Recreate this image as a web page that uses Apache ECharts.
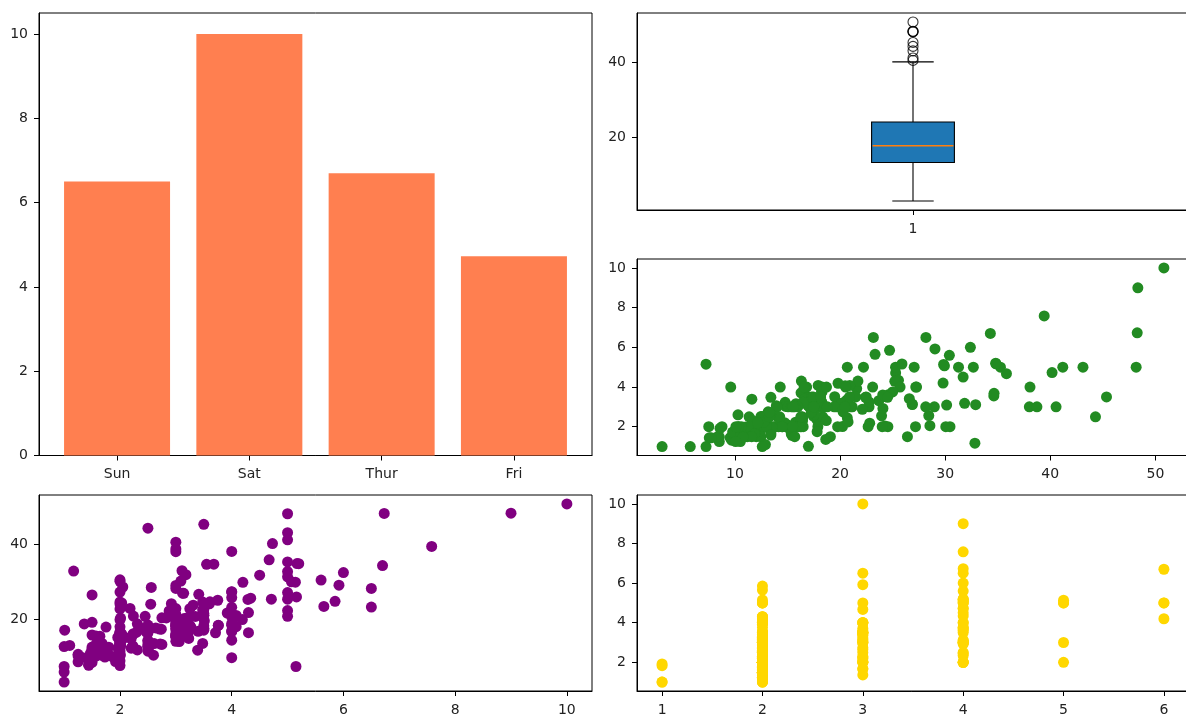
<!DOCTYPE html>
<html>
<head>
<meta charset="utf-8">
<script src="https://cdn.jsdelivr.net/npm/echarts@6/dist/echarts.min.js"></script>
<style>
html,body{margin:0;padding:0;background:#fff;}
#chart{width:1186px;height:718px;}
</style>
</head>
<body>
<div id="chart"></div>
<script>
// ---- data ----
const days = ['Sun', 'Sat', 'Thur', 'Fri'];
const maxTip = [6.5, 10, 6.7, 4.73];

const totalBill = [
16.99,10.34,21.01,23.68,24.59,25.29,8.77,26.88,15.04,14.78,
10.27,35.26,15.42,18.43,14.83,21.58,10.33,16.29,16.97,20.65,
17.92,20.29,15.77,39.42,19.82,17.81,13.37,12.69,21.7,19.65,
9.55,18.35,15.06,20.69,17.78,24.06,16.31,16.93,18.69,31.27,
16.04,17.46,13.94,9.68,30.4,18.29,22.23,32.4,28.55,18.04,
12.54,10.29,34.81,9.94,25.56,19.49,38.01,26.41,11.24,48.27,
20.29,13.81,11.02,18.29,17.59,20.08,16.45,3.07,20.23,15.01,
12.02,17.07,26.86,25.28,14.73,10.51,17.92,27.2,22.76,17.29,
19.44,16.66,10.07,32.68,15.98,34.83,13.03,18.28,24.71,21.16,
28.97,22.49,5.75,16.32,22.75,40.17,27.28,12.03,21.01,12.46,
11.35,15.38,44.3,22.42,20.92,15.36,20.49,25.21,18.24,14.31,
14.0,7.25,38.07,23.95,25.71,17.31,29.93,10.65,12.43,24.08,
11.69,13.42,14.26,15.95,12.48,29.8,8.52,14.52,11.38,22.82,
19.08,20.27,11.17,12.26,18.26,8.51,10.33,14.15,16.0,13.16,
17.47,34.3,41.19,27.05,16.43,8.35,18.64,11.87,9.78,7.51,
14.07,13.13,17.26,24.55,19.77,29.85,48.17,25.0,13.39,16.49,
21.5,12.66,16.21,13.81,17.51,24.52,20.76,31.71,10.59,10.63,
50.81,15.81,7.25,31.85,16.82,32.9,17.89,14.48,9.6,34.63,
34.65,23.33,45.35,23.17,40.55,20.69,20.9,30.46,18.15,23.1,
15.69,19.81,28.44,15.48,16.58,7.56,10.34,43.11,13.0,13.51,
18.71,12.74,13.0,16.4,20.53,16.47,26.59,38.73,24.27,12.76,
30.06,25.89,48.33,13.27,28.17,12.9,28.15,11.59,7.74,30.14,
12.16,13.42,8.58,15.98,13.42,16.27,10.09,20.45,13.28,22.12,
24.01,15.69,11.61,10.77,15.53,10.07,12.6,32.83,35.83,29.03,
27.18,22.67,17.82,18.78
];

const tip = [
1.01,1.66,3.5,3.31,3.61,4.71,2.0,3.12,1.96,3.23,
1.71,5.0,1.57,3.0,3.02,3.92,1.67,3.71,3.5,3.35,
4.08,2.75,2.23,7.58,3.18,2.34,2.0,2.0,4.3,3.0,
1.45,2.5,3.0,2.45,3.27,3.6,2.0,3.07,2.31,5.0,
2.24,2.54,3.06,1.32,5.6,3.0,5.0,6.0,2.05,3.0,
2.5,2.6,5.2,1.56,4.34,3.51,3.0,1.5,1.76,6.73,
3.21,2.0,1.98,3.76,2.64,3.15,2.47,1.0,2.01,2.09,
1.97,3.0,3.14,5.0,2.2,1.25,3.08,4.0,3.0,2.71,
3.0,3.4,1.83,5.0,2.03,5.17,2.0,4.0,5.85,3.0,
3.0,3.5,1.0,4.3,3.25,4.73,4.0,1.5,3.0,1.5,
2.5,3.0,2.5,3.48,4.08,1.64,4.06,4.29,3.76,4.0,
3.0,1.0,4.0,2.55,4.0,3.5,5.07,1.5,1.8,2.92,
2.31,1.68,2.5,2.0,2.52,4.2,1.48,2.0,2.0,2.18,
1.5,2.83,1.5,2.0,3.25,1.25,2.0,2.0,2.0,2.75,
3.5,6.7,5.0,5.0,2.3,1.5,1.36,1.63,1.73,2.0,
2.5,2.0,2.74,2.0,2.0,5.14,5.0,3.75,2.61,2.0,
3.5,2.5,2.0,2.0,3.0,3.48,2.24,4.5,1.61,2.0,
10.0,3.16,5.15,3.18,4.0,3.11,2.0,2.0,4.0,3.55,
3.68,5.65,3.5,6.5,3.0,5.0,3.5,2.0,3.5,4.0,
1.5,4.19,2.56,2.02,4.0,1.44,2.0,5.0,2.0,2.0,
4.0,2.01,2.0,2.5,4.0,3.23,3.41,3.0,2.03,2.23,
2.0,5.16,9.0,2.5,6.5,1.1,3.0,1.5,1.44,3.09,
2.2,3.48,1.92,3.0,1.58,2.5,2.0,3.0,2.72,2.88,
2.0,3.0,3.39,1.47,3.0,1.25,1.0,1.17,4.67,5.92,
2.0,2.0,1.75,3.0
];

const partySize = [
2,3,3,2,4,4,2,4,2,2,
2,4,2,4,2,2,3,3,3,3,
2,2,2,4,2,4,2,2,2,2,
2,4,2,4,2,3,3,3,3,3,
3,2,2,2,4,2,2,4,3,2,
2,2,4,2,4,2,4,2,2,4,
2,2,2,4,3,3,2,1,2,2,
2,3,2,2,2,2,2,4,2,2,
2,2,1,2,2,4,2,2,2,2,
2,2,2,2,2,4,2,2,2,2,
2,2,3,2,2,2,2,2,2,2,
2,1,3,2,3,2,4,2,2,4,
2,2,2,2,2,6,2,2,2,3,
2,2,2,2,2,2,2,2,2,2,
2,6,5,6,2,2,3,2,2,2,
2,2,3,4,4,5,6,4,2,4,
4,2,3,2,2,3,2,4,2,2,
3,2,2,2,2,2,2,2,2,2,
4,2,3,4,2,5,3,5,3,3,
2,2,2,2,2,2,2,4,2,2,
3,2,2,2,4,3,3,4,2,2,
3,4,4,2,3,2,5,2,2,4,
2,2,1,3,2,2,2,4,2,2,
4,3,2,2,2,2,2,2,3,3,
2,2,2,2
];

// boxplot of total_bill: [lower whisker, Q1, median, Q3, upper whisker]
const billBox = [3.07, 13.35, 17.8, 24.13, 40.17];
const billOutliers = [40.55, 41.19, 43.11, 44.3, 45.35, 48.17, 48.27, 48.33, 50.81];

// tick labels
const barYTicks = [0, 2, 4, 6, 8, 10];
const barXTicks = [0, 1, 2, 3];
const billTicks = [20, 40];
const tipTicks = [2, 4, 6, 8, 10];
const billXTicks = [10, 20, 30, 40, 50];
const tipXTicks = [2, 4, 6, 8, 10];
const sizeTicks = [1, 2, 3, 4, 5, 6];
const boxXTicks = [1];

// ---- chart ----
const FONT = 'DejaVu Sans';
const LABEL = { color: '#222', fontFamily: FONT, fontSize: 14 };
const X_MARGIN = 12, Y_MARGIN = 11;

function valAxis(gridIndex, min, max, ticks, dim, extra) {
  const a = {
    type: 'value', gridIndex, min, max,
    axisLine: { show: true, onZero: false, lineStyle: { color: '#000', width: 1 } },
    axisTick: { show: true, length: 5, lineStyle: { color: '#000', width: 1 }, customValues: ticks },
    axisLabel: Object.assign({ margin: dim === 'x' ? X_MARGIN : Y_MARGIN, customValues: ticks }, LABEL),
    splitLine: { show: false }
  };
  return Object.assign(a, extra || {});
}

const gridStyle = { show: true, borderColor: '#000', borderWidth: 1, backgroundColor: '#fff', containLabel: false, outerBoundsMode: 'none' };
const grids = [
  Object.assign({ left: 39, top: 13, width: 553, height: 442.5 }, gridStyle),   // bar
  Object.assign({ left: 637, top: 13, width: 552, height: 197 }, gridStyle),    // box
  Object.assign({ left: 637, top: 259, width: 552, height: 196.5 }, gridStyle), // green
  Object.assign({ left: 39, top: 495, width: 553, height: 196 }, gridStyle),    // purple
  Object.assign({ left: 637, top: 495, width: 552, height: 196 }, gridStyle)    // gold
];

const tipPad = 0.45, billLo = 0.683, billHi = 53.197;

const xAxes = [
  valAxis(0, -0.59, 3.59, barXTicks, 'x', { axisLabel: Object.assign({ margin: X_MARGIN, customValues: barXTicks, formatter: v => days[Math.round(v)] }, LABEL) }),
  valAxis(1, 0.5, 1.5, boxXTicks, 'x'),
  valAxis(2, billLo, billHi, billXTicks, 'x'),
  valAxis(3, 1 - tipPad, 10 + tipPad, tipXTicks, 'x'),
  valAxis(4, 0.75, 6.25, sizeTicks, 'x')
];
const yAxes = [
  valAxis(0, 0, 10.5, barYTicks, 'y'),
  valAxis(1, billLo, billHi, billTicks, 'y'),
  valAxis(2, 1 - tipPad, 10 + tipPad, tipTicks, 'y'),
  valAxis(3, billLo, billHi, billTicks, 'y'),
  valAxis(4, 1 - tipPad, 10 + tipPad, tipTicks, 'y')
];

const barData = maxTip.map((v, i) => [i, v]);
const billTip = totalBill.map((b, i) => [b, tip[i]]);
const tipBill = tip.map((t, i) => [t, totalBill[i]]);
const sizeTip = partySize.map((s, i) => [s, tip[i]]);

const series = [
  {
    type: 'bar', xAxisIndex: 0, yAxisIndex: 0, data: barData,
    barWidth: 106, itemStyle: { color: '#ff7f50' }, silent: true
  },
  {
    type: 'custom', xAxisIndex: 1, yAxisIndex: 1,
    data: [[1].concat(billBox)],
    encode: { x: 0, y: [1, 2, 3, 4, 5] },
    renderItem: function (params, api) {
      const x = api.value(0);
      const pLo = api.coord([x, api.value(1)]);
      const pQ1 = api.coord([x, api.value(2)]);
      const pMed = api.coord([x, api.value(3)]);
      const pQ3 = api.coord([x, api.value(4)]);
      const pHi = api.coord([x, api.value(5)]);
      const w = api.size([0.15, 0])[0];
      const cx = pLo[0];
      const ls = { stroke: '#000', lineWidth: 1.1 };
      return {
        type: 'group',
        children: [
          { type: 'line', shape: { x1: cx, y1: pLo[1], x2: cx, y2: pQ1[1] }, style: ls },
          { type: 'line', shape: { x1: cx, y1: pQ3[1], x2: cx, y2: pHi[1] }, style: ls },
          { type: 'line', shape: { x1: cx - w / 4, y1: pLo[1], x2: cx + w / 4, y2: pLo[1] }, style: ls },
          { type: 'line', shape: { x1: cx - w / 4, y1: pHi[1], x2: cx + w / 4, y2: pHi[1] }, style: ls },
          { type: 'rect', shape: { x: cx - w / 2, y: pQ3[1], width: w, height: pQ1[1] - pQ3[1] },
            style: { fill: '#1f77b4', stroke: '#000', lineWidth: 1.1 } },
          { type: 'line', shape: { x1: cx - w / 2 + 1, y1: pMed[1], x2: cx + w / 2 - 1, y2: pMed[1] },
            style: { stroke: '#ff7f0e', lineWidth: 1.4 } }
        ]
      };
    },
    silent: true
  },
  {
    type: 'scatter', xAxisIndex: 1, yAxisIndex: 1,
    data: billOutliers.map(v => [1, v]),
    symbol: 'circle', symbolSize: 10,
    itemStyle: { color: 'rgba(0,0,0,0)', borderColor: '#000', borderWidth: 1.1 }, silent: true
  },
  {
    type: 'scatter', xAxisIndex: 2, yAxisIndex: 2, data: billTip,
    symbolSize: 11, itemStyle: { color: '#228b22', opacity: 1 }, silent: true
  },
  {
    type: 'scatter', xAxisIndex: 3, yAxisIndex: 3, data: tipBill,
    symbolSize: 11, itemStyle: { color: '#800080', opacity: 1 }, silent: true
  },
  {
    type: 'scatter', xAxisIndex: 4, yAxisIndex: 4, data: sizeTip,
    symbolSize: 11, itemStyle: { color: '#ffd700', opacity: 1 }, silent: true
  }
];

const chart = echarts.init(document.getElementById('chart'), null, { renderer: 'canvas' });
chart.setOption({
  animation: false,
  backgroundColor: '#fff',
  grid: grids,
  xAxis: xAxes,
  yAxis: yAxes,
  series: series
});
</script>
</body>
</html>
